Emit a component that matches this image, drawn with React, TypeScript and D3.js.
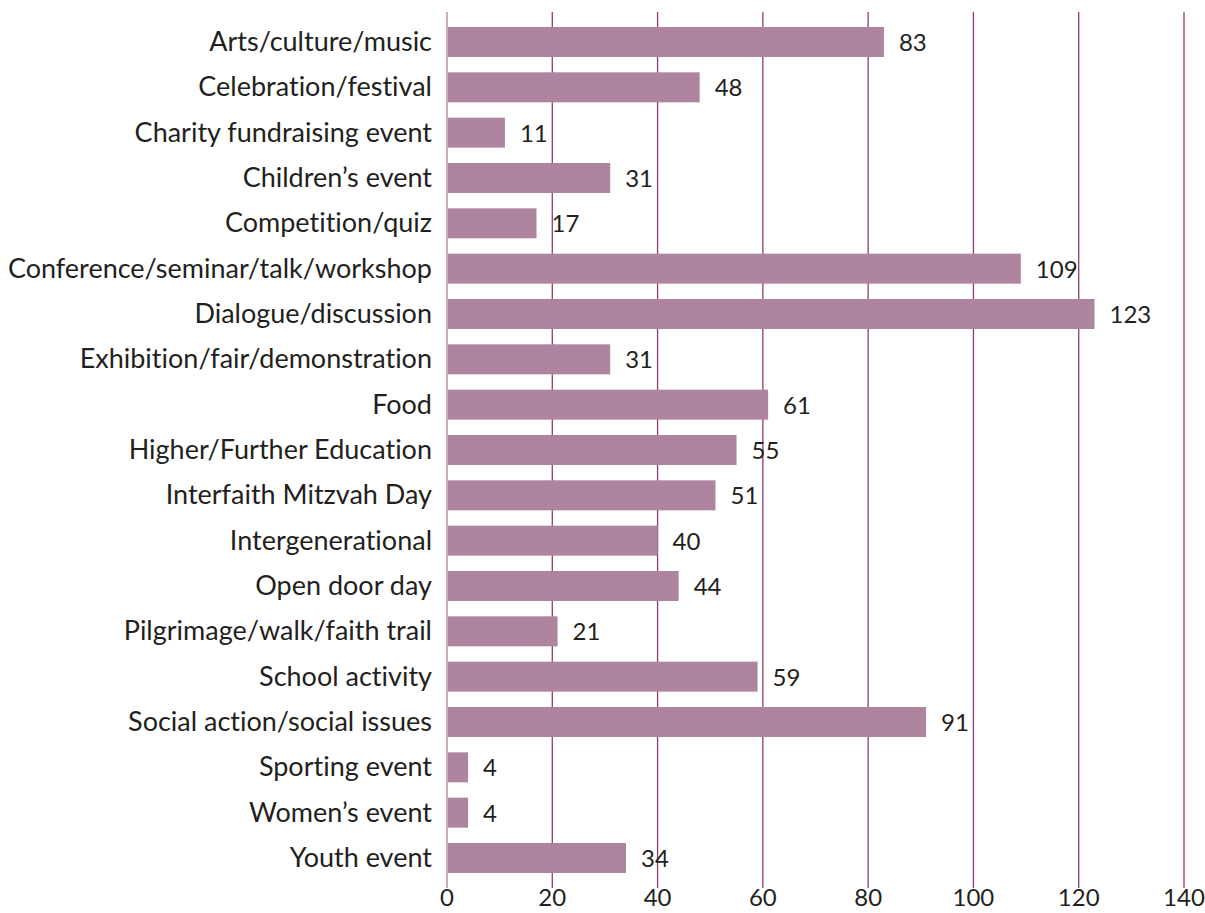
import React from "react";
import * as d3 from "d3";

const categories = [
  "Arts/culture/music",
  "Celebration/festival",
  "Charity fundraising event",
  "Children\u2019s event",
  "Competition/quiz",
  "Conference/seminar/talk/workshop",
  "Dialogue/discussion",
  "Exhibition/fair/demonstration",
  "Food",
  "Higher/Further Education",
  "Interfaith Mitzvah Day",
  "Intergenerational",
  "Open door day",
  "Pilgrimage/walk/faith trail",
  "School activity",
  "Social action/social issues",
  "Sporting event",
  "Women\u2019s event",
  "Youth event",
];
const values = [83, 48, 11, 31, 17, 109, 123, 31, 61, 55, 51, 40, 44, 21, 59, 91, 4, 4, 34];
const ticks = [0, 20, 40, 60, 80, 100, 120, 140];

const W = 1205;
const H = 913;
const FONT = "Lato, 'Source Sans Pro', 'Open Sans', sans-serif";

export default function App() {
  const x = d3.scaleLinear().domain([0, 140]).range([447, 1184]);
  const y = d3.scalePoint<string>().domain(categories).range([42, 858]);
  const barH = 30;
  const gridTop = 12;
  const gridBottom = 888;
  const textStyle = { fontVariantLigatures: "none" } as React.CSSProperties;

  return (
    <svg
      width={W}
      height={H}
      style={{ position: "absolute", left: 0, top: 0, background: "#fff" }}
    >
      {ticks.map((t) => (
        <line
          key={"g" + t}
          x1={x(t)}
          x2={x(t)}
          y1={gridTop}
          y2={gridBottom}
          stroke={t === 0 ? "#b57aa0" : "#8c3c72"}
          strokeWidth={1.3}
        />
      ))}
      {categories.map((c, i) => (
        <rect
          key={"b" + c}
          x={x(0) + 1}
          y={(y(c) as number) - barH / 2}
          width={x(values[i]) - x(0) - 1}
          height={barH}
          fill="#ae849f"
        />
      ))}
      {categories.map((c) => (
        <text
          key={"l" + c}
          x={432}
          y={(y(c) as number) + 9}
          textAnchor="end"
          fontFamily={FONT}
          fontSize={27}
          fill="#231f20"
          style={textStyle}
        >
          {c}
        </text>
      ))}
      {categories.map((c, i) => (
        <text
          key={"v" + c}
          x={x(values[i]) + 15}
          y={(y(c) as number) + 9}
          fontFamily={FONT}
          fontSize={24}
          fill="#231f20"
        >
          {values[i]}
        </text>
      ))}
      {ticks.map((t) => (
        <text
          key={"t" + t}
          x={x(t)}
          y={906}
          textAnchor="middle"
          fontFamily={FONT}
          fontSize={24}
          fill="#231f20"
        >
          {t}
        </text>
      ))}
    </svg>
  );
}
